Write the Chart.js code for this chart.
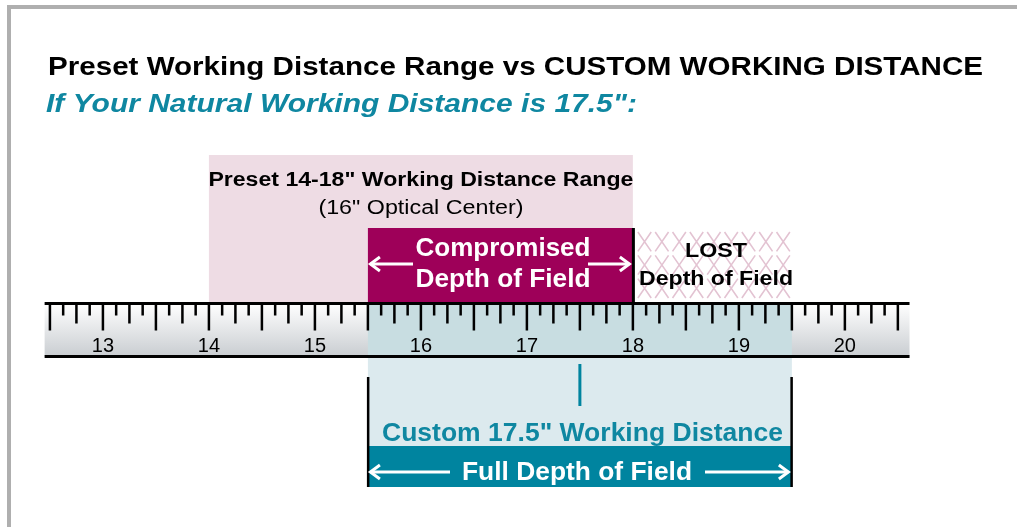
<!DOCTYPE html>
<html>
<head>
<meta charset="utf-8">
<script src="https://cdn.jsdelivr.net/npm/chart.js@4.4.1/dist/chart.umd.min.js"></script>
<style>
  html, body { margin: 0; padding: 0; background: #fff; }
  #wrap { width: 1017px; height: 527px; position: relative; }
</style>
</head>
<body>
<div id="wrap"><canvas id="chart"></canvas></div>
<script>
// Values in inches
const tickLabels = [13, 14, 15, 16, 17, 18, 19, 20];
const rulerRange = [12.45, 20.61];
const presetRange = [14, 18];
const opticalCenter = [16];
const compromisedRange = [15.5, 18];
const lostRange = [18, 19.5];
const customRange = [15.5, 19.5];
const customDistance = [17.5];

// Vertical layout (pixels from top of the canvas)
const band = {
  presetTop: 155, compTop: 228, lostTop: 230, lostBottom: 300,
  rulerTop: 303.5, rulerBottom: 356.5,
  customBottom: 487, barTop: 446, edgeTop: 377,
  markerY: 385
};

const FONT = '"Liberation Sans", Arial, Helvetica, sans-serif';
const teal = '#00849f';
const magenta = '#9e0059';

function fitText(ctx, txt, x, y, w, align) {
  const m = ctx.measureText(txt).width;
  ctx.save();
  ctx.translate(x, y);
  ctx.scale(w / m, 1);
  ctx.textAlign = align;
  ctx.textBaseline = 'alphabetic';
  ctx.fillText(txt, 0, 0);
  ctx.restore();
}

function arrow(ctx, x1, x2, y, color) {
  // arrow head points at x2
  const dir = x2 > x1 ? 1 : -1;
  ctx.save();
  ctx.strokeStyle = color;
  ctx.lineWidth = 3;
  ctx.lineCap = 'butt';
  ctx.beginPath();
  ctx.moveTo(x1, y);
  ctx.lineTo(x2 - dir * 1.5, y);
  ctx.stroke();
  ctx.beginPath();
  ctx.moveTo(x2 - dir * 11, y - 7);
  ctx.lineTo(x2 - dir * 1.5, y);
  ctx.lineTo(x2 - dir * 11, y + 7);
  ctx.stroke();
  ctx.restore();
}

const rulerPlugin = {
  id: 'ruler',
  beforeDatasetsDraw(chart) {
    const ctx = chart.ctx;
    const xs = chart.scales.x, ys = chart.scales.y;
    const X = v => xs.getPixelForValue(v);
    const Y = v => ys.getPixelForValue(v);

    // grey frame
    ctx.fillStyle = '#afafaf';
    ctx.fillRect(7, 5, 1010, 4);
    ctx.fillRect(7, 5, 4, 522);

    // titles
    ctx.fillStyle = '#000';
    ctx.font = 'bold 25px ' + FONT;
    fitText(ctx, 'Preset Working Distance Range vs CUSTOM WORKING DISTANCE', 48, 75, 935, 'left');
    ctx.fillStyle = '#0f87a1';
    ctx.font = 'italic bold 25px ' + FONT;
    fitText(ctx, 'If Your Natural Working Distance is 17.5":', 46, 112, 591, 'left');

    // preset range (pink)
    ctx.fillStyle = '#eedce4';
    ctx.fillRect(X(presetRange[0]), Y(band.presetTop), X(presetRange[1]) - X(presetRange[0]), Y(band.rulerTop) - Y(band.presetTop));

    // compromised depth of field
    ctx.fillStyle = magenta;
    ctx.fillRect(X(compromisedRange[0]), Y(band.compTop), X(compromisedRange[1]) - X(compromisedRange[0]), Y(band.rulerTop) - Y(band.compTop));

    // lost depth of field hatch (rows of X)
    const lx0 = X(lostRange[0]) + 3, lx1 = X(lostRange[1]);
    const ly0 = Y(band.lostTop), ly1 = Y(band.lostBottom);
    const cols = 9, rows = 3;
    const cw = (lx1 - lx0) / cols, rh = (ly1 - ly0) / rows;
    ctx.save();
    ctx.strokeStyle = '#e3c3d2';
    ctx.lineWidth = 1.6;
    for (let r = 0; r < rows; r++) {
      for (let c = 0; c < cols; c++) {
        const cx = lx0 + c * cw, cy = ly0 + r * rh;
        ctx.beginPath();
        ctx.moveTo(cx + 2, cy + 2); ctx.lineTo(cx + cw - 2, cy + rh - 2);
        ctx.moveTo(cx + cw - 2, cy + 2); ctx.lineTo(cx + 2, cy + rh - 2);
        ctx.stroke();
      }
    }
    ctx.restore();

    // black edge at 18
    ctx.fillStyle = '#000';
    ctx.fillRect(X(compromisedRange[1]) - 1, Y(band.compTop), 3, Y(band.rulerTop) - Y(band.compTop));

    // ruler body
    const rx0 = X(rulerRange[0]), rx1 = X(rulerRange[1]);
    const rt = Y(band.rulerTop), rb = Y(band.rulerBottom);
    const grad = ctx.createLinearGradient(0, rt, 0, rb);
    grad.addColorStop(0, '#ffffff');
    grad.addColorStop(1, '#c9cdd1');
    ctx.fillStyle = grad;
    ctx.fillRect(rx0, rt, rx1 - rx0, rb - rt);

    // custom range, light teal
    const cx0 = X(customRange[0]), cx1 = X(customRange[1]);
    ctx.fillStyle = '#c8dde1';
    ctx.fillRect(cx0, rt, cx1 - cx0, rb - rt);
    ctx.fillStyle = '#dceaee';
    ctx.fillRect(cx0, rb, cx1 - cx0, Y(band.customBottom) - rb);

    // ruler ticks every 1/8"
    ctx.fillStyle = '#000';
    for (let i = Math.ceil(rulerRange[0] * 8); i <= Math.floor(rulerRange[1] * 8); i++) {
      const len = i % 4 === 0 ? 27 : (i % 2 === 0 ? 20 : 12);
      ctx.fillRect(X(i / 8) - 1.25, rt, 2.5, len);
    }
    ctx.fillRect(rx0, rt - 1.5, rx1 - rx0, 3);
    ctx.fillRect(rx0, rb - 1.5, rx1 - rx0, 3);

    ctx.font = '20px ' + FONT;
    ctx.textAlign = 'center';
    ctx.textBaseline = 'alphabetic';
    tickLabels.forEach(v => ctx.fillText(String(v), X(v), 352));

    // full depth of field bar
    ctx.fillStyle = teal;
    ctx.fillRect(cx0, Y(band.barTop), cx1 - cx0, Y(band.customBottom) - Y(band.barTop));
    ctx.fillStyle = '#000';
    ctx.fillRect(cx0 - 1, Y(band.edgeTop), 2.5, Y(band.customBottom) - Y(band.edgeTop));
    ctx.fillRect(cx1 - 1.5, Y(band.edgeTop), 2.5, Y(band.customBottom) - Y(band.edgeTop));
  },
  afterDatasetsDraw(chart) {
    const ctx = chart.ctx;
    const X = v => chart.scales.x.getPixelForValue(v);

    // preset labels
    ctx.fillStyle = '#000';
    ctx.font = 'bold 20px ' + FONT;
    const pc = (X(presetRange[0]) + X(presetRange[1])) / 2;
    fitText(ctx, 'Preset 14-18" Working Distance Range', pc, 186, 425, 'center');
    ctx.font = '20px ' + FONT;
    fitText(ctx, '(' + opticalCenter[0] + '" Optical Center)', X(opticalCenter[0]), 214, 205, 'center');

    // compromised labels + arrows
    ctx.fillStyle = '#fff';
    ctx.font = 'bold 25px ' + FONT;
    fitText(ctx, 'Compromised', 503, 256, 175, 'center');
    fitText(ctx, 'Depth of Field', 503, 287, 175, 'center');
    arrow(ctx, 413, X(compromisedRange[0]) + 1, 264, '#fff');
    arrow(ctx, 588, X(compromisedRange[1]) - 2, 264, '#fff');

    // lost labels
    ctx.fillStyle = '#000';
    ctx.font = 'bold 21px ' + FONT;
    fitText(ctx, 'LOST', 716, 257, 62, 'center');
    fitText(ctx, 'Depth of Field', 716, 285, 154, 'center');

    // custom labels
    ctx.fillStyle = '#0f87a1';
    ctx.font = 'bold 26px ' + FONT;
    fitText(ctx, 'Custom ' + customDistance[0] + '" Working Distance', 582.5, 441, 401, 'center');
    ctx.fillStyle = '#fff';
    ctx.font = 'bold 25px ' + FONT;
    fitText(ctx, 'Full Depth of Field', 577, 480, 230, 'center');
    arrow(ctx, 450, X(customRange[0]) + 1, 472, '#fff');
    arrow(ctx, 705, X(customRange[1]) - 2, 472, '#fff');
  }
};

const ctx = document.getElementById('chart').getContext('2d');
new Chart(ctx, {
  type: 'scatter',
  data: {
    datasets: [{
      label: 'Custom working distance',
      data: customDistance.map(v => ({ x: v, y: band.markerY })),
      pointStyle: 'line',
      rotation: 90,
      radius: 21,
      borderWidth: 3,
      borderColor: teal,
      hoverRadius: 21
    }]
  },
  options: {
    responsive: true,
    maintainAspectRatio: false,
    animation: false,
    layout: { padding: 0, autoPadding: false },
    plugins: {
      legend: { display: false },
      tooltip: { enabled: false },
      title: { display: false }
    },
    scales: {
      x: { type: 'linear', min: 12.029, max: 21.624, display: false },
      y: { type: 'linear', min: 0, max: 527, reverse: true, display: false }
    }
  },
  plugins: [rulerPlugin]
});
</script>
</body>
</html>
